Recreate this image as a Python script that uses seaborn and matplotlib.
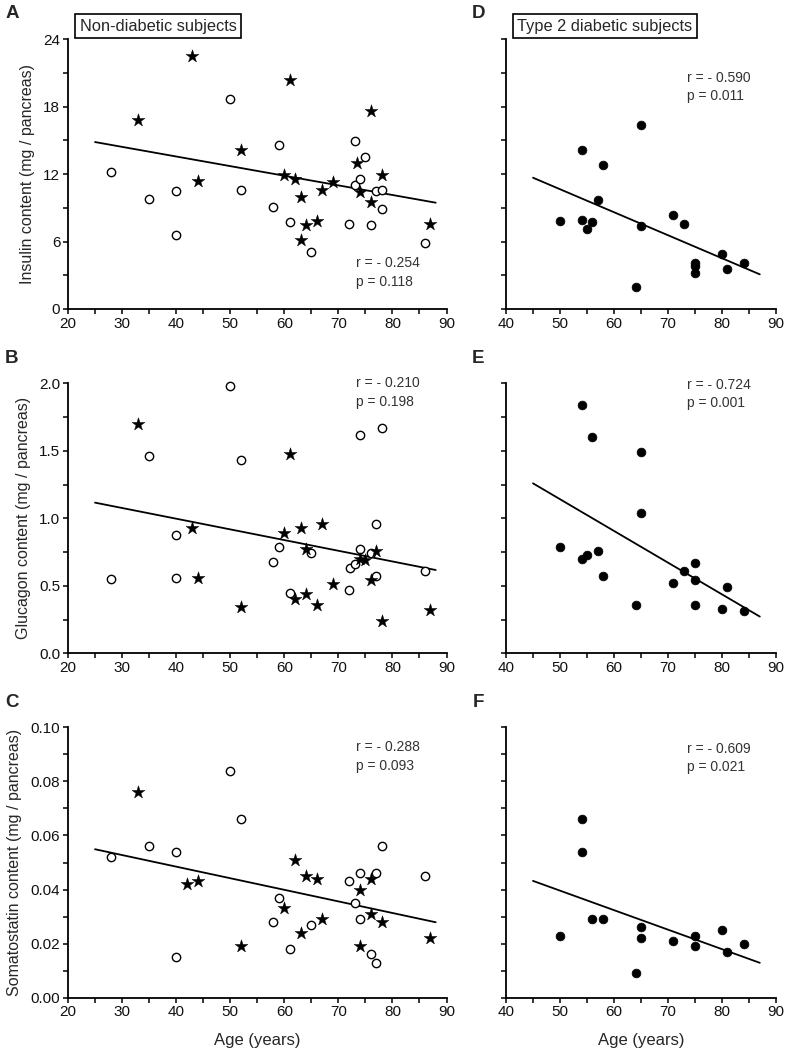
import matplotlib
matplotlib.use("Agg")
import matplotlib.pyplot as plt
from matplotlib.ticker import MultipleLocator, FormatStrFormatter
import seaborn as sns

# non-diabetic subjects: open circles and stars
nd_circle_age_ins = [28, 35, 40, 40, 50, 52, 58, 59, 61, 65, 72, 73, 73, 74, 75, 76, 77, 78, 78, 86]
nd_circle_ins = [12.2, 9.8, 10.5, 6.6, 18.7, 10.6, 9.1, 14.6, 7.7, 5.1, 7.6, 14.9, 11.0, 11.6, 13.5, 7.5, 10.5, 10.6, 8.9, 5.9]
nd_star_age_ins = [33, 43, 44, 52, 60, 61, 62, 63, 63, 64, 66, 67, 69, 73.5, 74, 76, 76, 78, 87]
nd_star_ins = [16.8, 22.5, 11.4, 14.1, 11.9, 20.4, 11.6, 10.0, 6.1, 7.5, 7.8, 10.6, 11.3, 13.0, 10.4, 17.6, 9.5, 11.9, 7.6]

nd_circle_age_glu = [28, 35, 40, 40, 50, 52, 58, 59, 61, 65, 72, 72.2, 73, 74, 74, 76, 77, 77, 78, 86]
nd_circle_glu = [0.55, 1.46, 0.88, 0.56, 1.98, 1.43, 0.68, 0.79, 0.45, 0.74, 0.47, 0.63, 0.66, 0.77, 1.62, 0.74, 0.96, 0.57, 1.67, 0.61]
nd_star_age_glu = [33, 43, 44, 52, 60, 61, 62, 63, 64, 64, 66, 67, 69, 74, 75, 76, 77, 78, 87]
nd_star_glu = [1.70, 0.93, 0.56, 0.34, 0.89, 1.48, 0.40, 0.93, 0.77, 0.44, 0.36, 0.96, 0.51, 0.70, 0.69, 0.54, 0.76, 0.24, 0.32]

nd_circle_age_som = [28, 35, 40, 40, 50, 52, 58, 59, 61, 65, 72, 73, 74, 74, 76, 77, 77, 78, 86]
nd_circle_som = [0.052, 0.056, 0.054, 0.015, 0.084, 0.066, 0.028, 0.037, 0.018, 0.027, 0.043, 0.035, 0.046, 0.029, 0.016, 0.046, 0.013, 0.056, 0.045]
nd_star_age_som = [33, 42, 44, 52, 60, 62, 63, 64, 66, 67, 74, 74, 76, 76, 78, 87]
nd_star_som = [0.076, 0.042, 0.043, 0.019, 0.033, 0.051, 0.024, 0.045, 0.044, 0.029, 0.040, 0.019, 0.044, 0.031, 0.028, 0.022]

# type 2 diabetic subjects: filled circles
t2_age_ins = [50, 54, 54, 55, 56, 57, 58, 64, 65, 65, 71, 73, 75, 75, 75, 80, 81, 84]
t2_ins = [7.8, 14.1, 7.9, 7.1, 7.7, 9.7, 12.8, 2.0, 16.4, 7.4, 8.4, 7.6, 4.1, 3.8, 3.2, 4.9, 3.6, 4.1]
t2_age_glu = [50, 54, 54, 55, 56, 57, 58, 64, 65, 65, 71, 73, 75, 75, 75, 80, 81, 84]
t2_glu = [0.79, 1.84, 0.70, 0.73, 1.60, 0.76, 0.57, 0.36, 1.49, 1.04, 0.52, 0.61, 0.67, 0.54, 0.36, 0.33, 0.49, 0.31]
t2_age_som = [50, 54, 54, 56, 58, 64, 65, 65, 71, 75, 75, 80, 81, 84]
t2_som = [0.023, 0.066, 0.054, 0.029, 0.029, 0.009, 0.026, 0.022, 0.021, 0.023, 0.019, 0.025, 0.017, 0.020]

# regression line ends
nd_fit_age = [25, 88]
nd_fit_ins = [14.84, 9.45]
nd_fit_glu = [1.116, 0.617]
nd_fit_som = [0.0549, 0.0279]
t2_fit_age = [45, 87]
t2_fit_ins = [11.67, 3.08]
t2_fit_glu = [1.259, 0.272]
t2_fit_som = [0.0432, 0.0129]

stats_r = ["r = - 0.254", "r = - 0.210", "r = - 0.288", "r = - 0.590", "r = - 0.724", "r = - 0.609"]
stats_p = ["p = 0.118", "p = 0.198", "p = 0.093", "p = 0.011", "p = 0.001", "p = 0.021"]
panel_letters = ["A", "B", "C", "D", "E", "F"]
y_labels = ["Insulin content (mg / pancreas)", "Glucagon content (mg / pancreas)",
            "Somatostatin content (mg / pancreas)"]

sns.set_style("ticks")
plt.rcParams["font.family"] = ["Liberation Sans", "DejaVu Sans"]

W, H = 787, 1054
fig = plt.figure(figsize=(W / 100, H / 100), dpi=100)


def px_axes(x0, x1, y0, y1):
    return fig.add_axes([x0 / W, 1 - y1 / H, (x1 - x0) / W, (y1 - y0) / H])


rows = [(39, 309), (383.3, 653.3), (727.3, 997.7)]
ylims = [(0, 24, 6, 3, "%d"), (0, 2.0, 0.5, 0.25, "%.1f"), (0, 0.10, 0.02, 0.01, "%.2f")]
nd_data = [(nd_circle_age_ins, nd_circle_ins, nd_star_age_ins, nd_star_ins, nd_fit_ins),
           (nd_circle_age_glu, nd_circle_glu, nd_star_age_glu, nd_star_glu, nd_fit_glu),
           (nd_circle_age_som, nd_circle_som, nd_star_age_som, nd_star_som, nd_fit_som)]
t2_data = [(t2_age_ins, t2_ins, t2_fit_ins), (t2_age_glu, t2_glu, t2_fit_glu), (t2_age_som, t2_som, t2_fit_som)]
# r / p label heights as axes fractions
nd_text_y = [(0.169, 0.101), (1.0, 0.932), (0.926, 0.856)]
t2_text_y = [(0.854, 0.79), (0.994, 0.926), (0.92, 0.855)]


def style_axes(ax, xmin, ymin, ymax, ymaj, ymin_step, fmt, show_ylabels):
    ax.set_xlim(xmin, 90)
    ax.set_ylim(ymin, ymax)
    ax.xaxis.set_major_locator(MultipleLocator(10))
    ax.xaxis.set_minor_locator(MultipleLocator(5))
    ax.yaxis.set_major_locator(MultipleLocator(ymaj))
    ax.yaxis.set_minor_locator(MultipleLocator(ymin_step))
    ax.yaxis.set_major_formatter(FormatStrFormatter(fmt))
    for side in ["top", "right"]:
        ax.spines[side].set_visible(False)
    for side in ["left", "bottom"]:
        ax.spines[side].set_linewidth(1.3)
        ax.spines[side].set_color("black")
    ax.tick_params(which="both", direction="out", length=3.5, width=1.1, color="black")
    ax.tick_params(which="major", labelsize=11, pad=2, labelcolor="#111111")
    if not show_ylabels:
        ax.set_yticklabels([])
    ax.set_xlabel("")
    ax.set_ylabel("")


for i, (y0, y1) in enumerate(rows):
    lo, hi, maj, mnr, fmt = ylims[i]

    # left column: non-diabetic
    ax = px_axes(68, 446.5, y0, y1)
    cx, cy, sx, sy, fit = nd_data[i]
    sns.lineplot(x=nd_fit_age, y=fit, color="black", linewidth=1.3, ax=ax)
    sns.scatterplot(x=cx, y=cy, marker="o", s=36, color="white", edgecolor="black",
                    linewidth=1.0, ax=ax, zorder=3, clip_on=False)
    sns.scatterplot(x=sx, y=sy, marker="*", s=95, color="black", edgecolor="black",
                    linewidth=0.3, ax=ax, zorder=3, clip_on=False)
    style_axes(ax, 20, lo, hi, maj, mnr, fmt, True)
    ax.set_ylabel(y_labels[i], fontsize=11.5, labelpad=6)
    ax.text(73.2, lo + (hi - lo) * nd_text_y[i][0], stats_r[i], fontsize=10, color="#333333", va="center")
    ax.text(73.2, lo + (hi - lo) * nd_text_y[i][1], stats_p[i], fontsize=10, color="#333333", va="center")
    if i == 2:
        ax.set_xlabel("Age (years)", fontsize=12, labelpad=10)
    fig.text(12 / W, 1 - (14 + y0 - 39) / H, panel_letters[i], fontsize=13.5, fontweight="bold",
             ha="center", va="center")

    # right column: type 2 diabetic
    ax2 = px_axes(506, 776, y0, y1)
    tx, ty, tfit = t2_data[i]
    sns.lineplot(x=t2_fit_age, y=tfit, color="black", linewidth=1.3, ax=ax2)
    sns.scatterplot(x=tx, y=ty, marker="o", s=40, color="black", edgecolor="black",
                    linewidth=0.5, ax=ax2, zorder=3, clip_on=False)
    style_axes(ax2, 40, lo, hi, maj, mnr, fmt, False)
    ax2.text(73.5, lo + (hi - lo) * t2_text_y[i][0], stats_r[i + 3], fontsize=10, color="#333333", va="center")
    ax2.text(73.5, lo + (hi - lo) * t2_text_y[i][1], stats_p[i + 3], fontsize=10, color="#333333", va="center")
    if i == 2:
        ax2.set_xlabel("Age (years)", fontsize=12, labelpad=10)
    fig.text(478 / W, 1 - (14 + y0 - 39) / H, panel_letters[i + 3], fontsize=13.5, fontweight="bold",
             ha="center", va="center")

box = dict(boxstyle="square,pad=0.25", facecolor="white", edgecolor="black", linewidth=1.2)
fig.text(158 / W, 1 - 26 / H, "Non-diabetic subjects", fontsize=11.8, ha="center", va="center", bbox=box)
fig.text(605 / W, 1 - 26 / H, "Type 2 diabetic subjects", fontsize=11.8, ha="center", va="center", bbox=box)

fig.savefig("out.png", dpi=100)
